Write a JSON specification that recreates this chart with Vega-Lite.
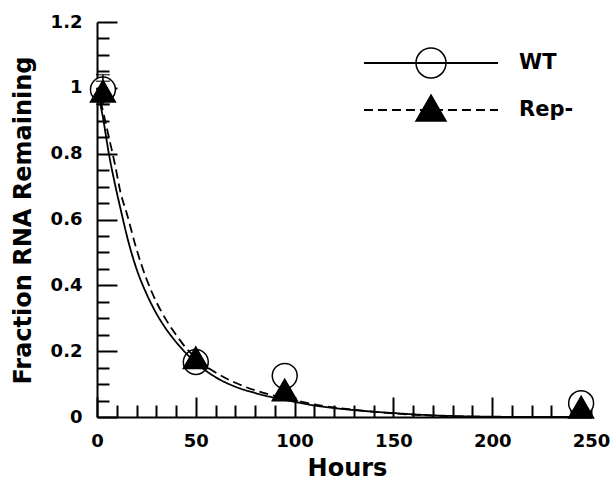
{
  "$schema": "https://vega.github.io/schema/vega-lite/v6.json",
  "autosize": "none",
  "width": 494,
  "height": 395,
  "padding": {"left": 97, "top": 22, "right": 21, "bottom": 65},
  "background": "white",
  "config": {
    "view": {"stroke": null},
    "axis": {"grid": false, "domainColor": "black", "tickColor": "black", "labelColor": "black", "titleColor": "black",
      "labelFont": "DejaVu Sans", "labelFontWeight": "bold", "labelFontSize": 18,
      "titleFont": "DejaVu Sans", "titleFontWeight": "bold", "titleFontSize": 24}
  },
  "datasets": {
    "fits": [
      {"hours": 0, "frac": 1.0, "fit": "WT"},
      {"hours": 3, "frac": 0.91, "fit": "WT"},
      {"hours": 6, "frac": 0.8, "fit": "WT"},
      {"hours": 9, "frac": 0.71, "fit": "WT"},
      {"hours": 12, "frac": 0.63, "fit": "WT"},
      {"hours": 16, "frac": 0.53, "fit": "WT"},
      {"hours": 20, "frac": 0.45, "fit": "WT"},
      {"hours": 25, "frac": 0.375, "fit": "WT"},
      {"hours": 30, "frac": 0.315, "fit": "WT"},
      {"hours": 35, "frac": 0.267, "fit": "WT"},
      {"hours": 40, "frac": 0.228, "fit": "WT"},
      {"hours": 45, "frac": 0.194, "fit": "WT"},
      {"hours": 50, "frac": 0.165, "fit": "WT"},
      {"hours": 55, "frac": 0.141, "fit": "WT"},
      {"hours": 60, "frac": 0.121, "fit": "WT"},
      {"hours": 70, "frac": 0.092, "fit": "WT"},
      {"hours": 80, "frac": 0.073, "fit": "WT"},
      {"hours": 90, "frac": 0.058, "fit": "WT"},
      {"hours": 100, "frac": 0.046, "fit": "WT"},
      {"hours": 110, "frac": 0.035, "fit": "WT"},
      {"hours": 120, "frac": 0.027, "fit": "WT"},
      {"hours": 130, "frac": 0.021, "fit": "WT"},
      {"hours": 140, "frac": 0.016, "fit": "WT"},
      {"hours": 150, "frac": 0.012, "fit": "WT"},
      {"hours": 160, "frac": 0.008, "fit": "WT"},
      {"hours": 170, "frac": 0.005, "fit": "WT"},
      {"hours": 180, "frac": 0.003, "fit": "WT"},
      {"hours": 200, "frac": 0.001, "fit": "WT"},
      {"hours": 220, "frac": 0.0, "fit": "WT"},
      {"hours": 245, "frac": 0.0, "fit": "WT"},
      {"hours": 0, "frac": 1.0, "fit": "Rep-"},
      {"hours": 3, "frac": 0.93, "fit": "Rep-"},
      {"hours": 6, "frac": 0.85, "fit": "Rep-"},
      {"hours": 9, "frac": 0.77, "fit": "Rep-"},
      {"hours": 12, "frac": 0.68, "fit": "Rep-"},
      {"hours": 15, "frac": 0.62, "fit": "Rep-"},
      {"hours": 20, "frac": 0.51, "fit": "Rep-"},
      {"hours": 25, "frac": 0.42, "fit": "Rep-"},
      {"hours": 30, "frac": 0.35, "fit": "Rep-"},
      {"hours": 35, "frac": 0.295, "fit": "Rep-"},
      {"hours": 40, "frac": 0.25, "fit": "Rep-"},
      {"hours": 45, "frac": 0.21, "fit": "Rep-"},
      {"hours": 50, "frac": 0.18, "fit": "Rep-"},
      {"hours": 55, "frac": 0.155, "fit": "Rep-"},
      {"hours": 60, "frac": 0.135, "fit": "Rep-"},
      {"hours": 70, "frac": 0.104, "fit": "Rep-"},
      {"hours": 80, "frac": 0.081, "fit": "Rep-"},
      {"hours": 90, "frac": 0.064, "fit": "Rep-"},
      {"hours": 100, "frac": 0.051, "fit": "Rep-"},
      {"hours": 110, "frac": 0.038, "fit": "Rep-"},
      {"hours": 120, "frac": 0.029, "fit": "Rep-"},
      {"hours": 130, "frac": 0.022, "fit": "Rep-"},
      {"hours": 140, "frac": 0.016, "fit": "Rep-"},
      {"hours": 150, "frac": 0.011, "fit": "Rep-"},
      {"hours": 160, "frac": 0.007, "fit": "Rep-"},
      {"hours": 170, "frac": 0.004, "fit": "Rep-"},
      {"hours": 180, "frac": 0.002, "fit": "Rep-"},
      {"hours": 200, "frac": 0.0, "fit": "Rep-"},
      {"hours": 245, "frac": 0.0, "fit": "Rep-"}
    ],
    "obs": [
      {"hours": 3, "frac": 0.995, "sample": "WT"},
      {"hours": 50, "frac": 0.167, "sample": "WT"},
      {"hours": 95, "frac": 0.125, "sample": "WT"},
      {"hours": 245, "frac": 0.042, "sample": "WT"},
      {"hours": 3, "frac": 0.99, "sample": "Rep-"},
      {"hours": 50, "frac": 0.18, "sample": "Rep-"},
      {"hours": 95, "frac": 0.082, "sample": "Rep-"},
      {"hours": 245, "frac": 0.03, "sample": "Rep-"}
    ],
    "err": [
      {"hours": 3, "lo": 0.95, "hi": 1.04, "sample": "WT"},
      {"hours": 3, "lo": 0.96, "hi": 1.02, "sample": "Rep-"}
    ]
  },
  "resolve": {"axis": {"x": "independent", "y": "independent"}},
  "layer": [
    {
      "data": {"name": "obs"},
      "mark": {"type": "point", "size": 620, "strokeWidth": 1.5, "opacity": 1},
      "encoding": {
        "x": {"field": "hours", "type": "quantitative", "scale": {"domain": [0, 250], "nice": false}, "axis": null},
        "y": {"field": "frac", "type": "quantitative", "scale": {"domain": [0, 1.2], "nice": false}, "axis": null},
        "shape": {"field": "sample", "type": "nominal",
          "scale": {"domain": ["Rep-", "WT"], "range": ["triangle-up", "circle"]},
          "legend": {"orient": "none", "legendX": 318, "legendY": 25, "title": null, "padding": 0,
            "values": ["WT", "Rep-"],
            "symbolSize": 900, "symbolStrokeWidth": 1.5, "labelExpr": "''",
            "labelFontSize": 21, "labelOffset": 72, "rowPadding": 11}},
        "fill": {"field": "sample", "type": "nominal",
          "scale": {"domain": ["Rep-", "WT"], "range": ["black", "white"]}},
        "stroke": {"field": "sample", "type": "nominal",
          "scale": {"domain": ["Rep-", "WT"], "range": ["black", "black"]}}
      }
    },
    {
      "data": {"name": "err"},
      "mark": {"type": "rule", "color": "black", "strokeWidth": 1.5},
      "encoding": {
        "x": {"field": "hours", "type": "quantitative",
          "axis": {"orient": "bottom", "values": [10,20,30,40,60,70,80,90,110,120,130,140,160,170,180,190,210,220,230,240],
            "tickSize": -12, "tickWidth": 2, "domain": false, "labels": false, "title": null}},
        "y": {"field": "lo", "type": "quantitative",
          "axis": {"orient": "left", "values": [0.05,0.1,0.15,0.25,0.3,0.35,0.45,0.5,0.55,0.65,0.7,0.75,0.85,0.9,0.95,1.05,1.1,1.15],
            "tickSize": -12, "tickWidth": 2, "domain": false, "labels": false, "title": null}},
        "y2": {"field": "hi"}
      }
    },
    {
      "data": {"name": "err"},
      "mark": {"type": "tick", "orient": "horizontal", "color": "black", "size": 14, "thickness": 1.5},
      "encoding": {
        "x": {"field": "hours", "type": "quantitative", "axis": null},
        "y": {"field": "hi", "type": "quantitative", "axis": null}
      }
    },
    {
      "data": {"name": "err"},
      "mark": {"type": "tick", "orient": "horizontal", "color": "black", "size": 14, "thickness": 1.5},
      "encoding": {
        "x": {"field": "hours", "type": "quantitative", "axis": null},
        "y": {"field": "lo", "type": "quantitative", "axis": null}
      }
    },
    {
      "data": {"name": "fits"},
      "mark": {"type": "line", "interpolate": "monotone", "color": "black", "strokeWidth": 1.8},
      "encoding": {
        "x": {"field": "hours", "type": "quantitative",
          "axis": {"orient": "bottom", "values": [0, 50, 100, 150, 200, 250], "tickSize": -20, "tickWidth": 2,
            "domainWidth": 2, "labelPadding": 35, "labelFlush": false, "labelOverlap": false,
            "title": "Hours", "titleX": 250, "titleY": 58, "titleBaseline": "alphabetic"}},
        "y": {"field": "frac", "type": "quantitative",
          "axis": {"orient": "left", "values": [0, 0.2, 0.4, 0.6, 0.8, 1, 1.2], "format": "~g", "tickSize": -20, "tickWidth": 2,
            "domainWidth": 2, "labelPadding": 35, "labelFlush": false, "labelOverlap": false,
            "title": "Fraction RNA Remaining", "titleX": -67, "titleY": 198, "titleBaseline": "alphabetic", "titleAngle": -90}},
        "strokeDash": {"field": "fit", "type": "nominal",
          "scale": {"domain": ["WT", "Rep-"], "range": [[1, 0], [9, 5]]},
          "legend": {"orient": "none", "legendX": 318, "legendY": 25, "title": null, "padding": 0,
            "symbolType": "M-4.47,0H4.47", "symbolSize": 900, "symbolStrokeWidth": 1.8, "symbolStrokeColor": "black",
            "labelFont": "DejaVu Sans", "labelFontWeight": "bold", "labelFontSize": 21, "labelColor": "black",
            "labelOffset": 72, "rowPadding": 21,
            "encode": {"symbols": {"update": {"stroke": {"value": "black"}, "strokeWidth": {"value": 1.8}}}}}}
      }
    }
  ]
}
